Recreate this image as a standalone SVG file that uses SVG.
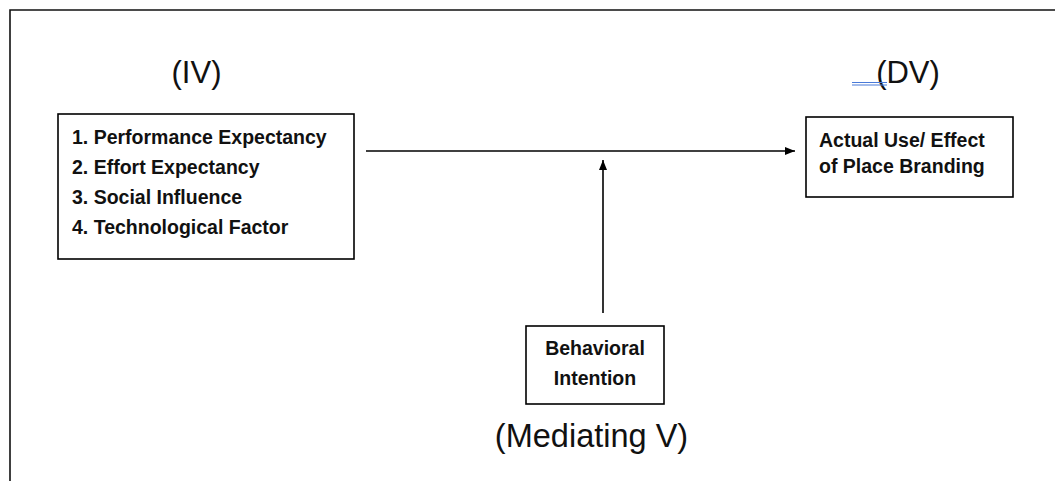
<svg xmlns="http://www.w3.org/2000/svg" width="1055" height="481" viewBox="0 0 1055 481">
<style>
.box{fill:#fff;stroke:#000;stroke-width:1.6}
.bt{font-family:"Liberation Sans",Arial,sans-serif;font-weight:bold;font-size:19.5px;fill:#111}
.hd{font-family:"Liberation Sans",Arial,sans-serif;font-size:31px;fill:#111;text-anchor:middle}
.conn{stroke:#000;stroke-width:1.6;fill:none}
</style>
<defs>
<marker id="arr" viewBox="0 0 10 8" refX="10" refY="4" markerWidth="10" markerHeight="8" markerUnits="userSpaceOnUse" orient="auto">
<path d="M0,0 L10,4 L0,8 Z" fill="#000"/>
</marker>
</defs>
<rect width="1055" height="481" fill="#fff"/>
<path d="M10,481 V10 H1055" fill="none" stroke="#111" stroke-width="1.6"/>
<text class="hd" x="196.5" y="83">(IV)</text>
<text class="hd" x="908" y="83">(DV)</text>
<path d="M852,82.5 H887 M852,85 H887" stroke="#4a7ad8" stroke-width="1"/>
<g id="iv">
<rect class="box" x="58" y="114" width="296" height="145"/>
<text class="bt" x="72" y="144">1. Performance Expectancy</text>
<text class="bt" x="72" y="174">2. Effort Expectancy</text>
<text class="bt" x="72" y="204">3. Social Influence</text>
<text class="bt" x="72" y="234">4. Technological Factor</text>
</g>
<g id="dv">
<rect class="box" x="806" y="117" width="207" height="80"/>
<text class="bt" x="819" y="147">Actual Use/ Effect</text>
<text class="bt" x="819" y="173">of Place Branding</text>
</g>
<g id="mv">
<rect class="box" x="526" y="326" width="138" height="78"/>
<text class="bt" x="595" y="355" text-anchor="middle">Behavioral</text>
<text class="bt" x="595" y="385" text-anchor="middle">Intention</text>
</g>
<text class="hd" x="591.5" y="447" style="font-size:32.5px">(Mediating V)</text>
<g id="connectors">
<line class="conn" x1="366" y1="151" x2="795" y2="151" marker-end="url(#arr)"/>
<line class="conn" x1="603" y1="313" x2="603" y2="160" marker-end="url(#arr)"/>
</g>
</svg>
